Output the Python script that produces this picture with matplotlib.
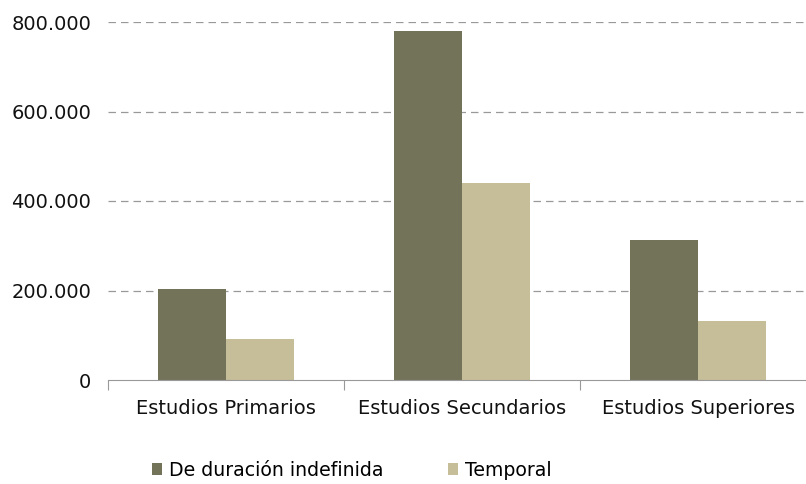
import matplotlib.pyplot as plt
import numpy as np
from matplotlib.ticker import FuncFormatter

categorias = ['Estudios Primarios', 'Estudios Secundarios', 'Estudios Superiores']
indefinida = [203000, 780000, 312000]
temporal = [91000, 441000, 131000]
series = ['De duración indefinida', 'Temporal']

c_indef = '#727359'
c_temp = '#C6BE98'

fig = plt.figure(figsize=(8.06, 4.84), dpi=100)
ax = fig.add_axes([108/806, 104/484, 698/806, 358/484])

x = np.arange(len(categorias))
w = 0.288
ax.bar(x - w/2, indefinida, w, color=c_indef, label=series[0])
ax.bar(x + w/2, temporal, w, color=c_temp, label=series[1])

ax.set_xlim(-0.5, -0.5 + 698/236)
ax.set_ylim(0, 800000)
ax.set_yticks(np.arange(0, 800001, 200000))
ax.yaxis.set_major_formatter(FuncFormatter(lambda v, p: f'{int(v):,}'.replace(',', '.')))

# separadores de categorias en el eje x
ax.set_xticks([-0.5, 0.5, 1.5], minor=False)
ax.set_xticklabels([])
ax.set_xticks(x, minor=True)
ax.set_xticklabels(categorias, minor=True)
ax.tick_params(axis='x', which='major', length=7, color='#999999', direction='out')
ax.tick_params(axis='x', which='minor', length=0, pad=14, labelsize=14, labelcolor='#111111')
ax.tick_params(axis='y', length=0, pad=12, labelsize=14, labelcolor='#111111')

for s in ['top', 'right', 'left']:
    ax.spines[s].set_visible(False)
ax.spines['bottom'].set_color('#999999')

ax.yaxis.grid(True, linestyle=(0, (6, 4)), color='#999999', linewidth=0.9)
ax.set_axisbelow(True)
ax.get_ygridlines()[0].set_visible(False)

ax.legend(loc='center left', bbox_to_anchor=(135/806, 14/484), bbox_transform=fig.transFigure,
          ncol=2, frameon=False, fontsize=13.6, handlelength=0.55, handleheight=0.55,
          handletextpad=0.36, columnspacing=3.4)

fig.savefig('out.png', dpi=100)
